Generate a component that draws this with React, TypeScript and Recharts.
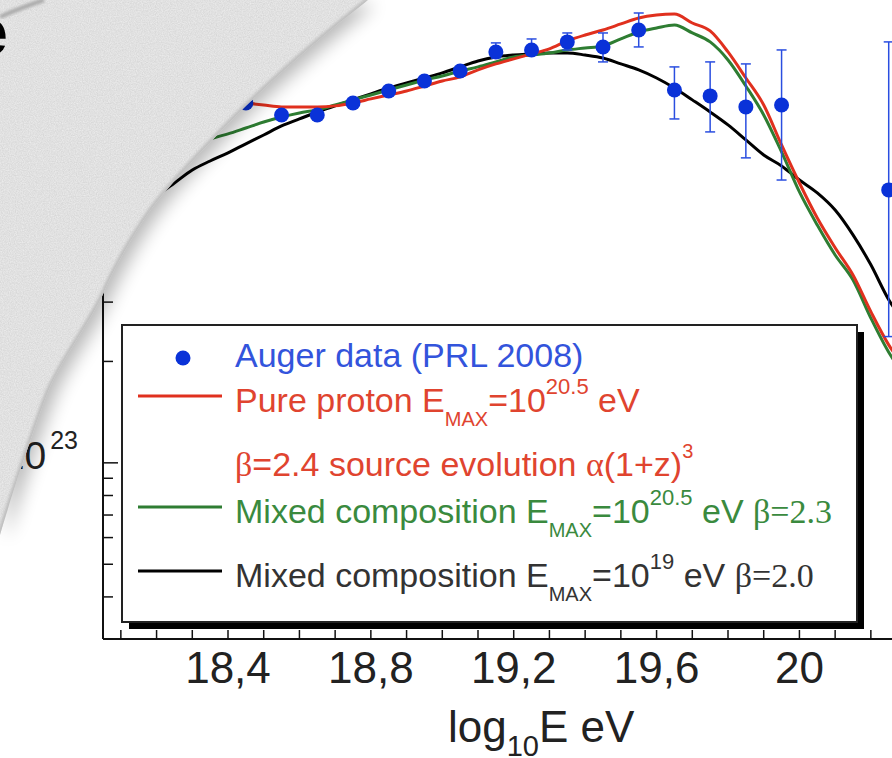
import React from "react";
import { ComposedChart, Line, Scatter, XAxis, YAxis, ErrorBar } from "recharts";

// log10(E/eV) grid used by the model curves
const logE = [
  18.1, 18.15, 18.2, 18.25, 18.3, 18.35, 18.4, 18.45, 18.5, 18.55, 18.6, 18.65, 18.7, 18.75, 18.8, 18.85, 18.9, 18.95,
  19.0, 19.05, 19.1, 19.15, 19.2, 19.25, 19.3, 19.35, 19.4, 19.45, 19.5, 19.55, 19.6, 19.65, 19.7, 19.75, 19.8, 19.85,
  19.9, 19.95, 20.0, 20.05, 20.1, 20.15, 20.2, 20.25, 20.3,
];

// E^3 J for each model (null = not drawn)
const pureProton = [
  null, null, null, null, null, null, null, 11.7e23, 11.54e23, 11.39e23, 11.39e23, 11.39e23, 11.47e23, 11.7e23, 12.03e23,
  12.36e23, 12.7e23, 13.14e23,
  13.6e23, 13.98e23, 14.67e23, 15.28e23, 15.81e23, 16.36e23, 16.93e23, 17.88e23, 18.62e23, 19.27e23, 20.08e23, 20.92e23,
  21.35e23, 21.49e23, 20.21e23, 19.14e23, 16.58e23, 13.88e23, 11.54e23, 8.78e23,
  6.77e23, 5.33e23, 4.35e23, 3.61e23, 2.81e23, 2.24e23, 1.89e23,
];
const mixedHigh = [
  null, null, 8.2e23, 8.49e23, 8.85e23, 9.15e23, 9.47e23, 9.86e23, 10.27e23, 10.63e23, 10.93e23, 11.16e23, 11.54e23,
  11.95e23, 12.36e23, 12.79e23, 13.23e23, 13.69e23,
  14.07e23, 14.56e23, 14.97e23, 15.49e23, 16.02e23, 16.24e23, 16.47e23, 16.81e23, 17.04e23, 17.28e23, 18.12e23, 19.01e23,
  19.54e23, 19.94e23, 18.88e23, 17.76e23, 15.7e23, 13.14e23, 10.78e23, 8.37e23,
  6.37e23, 5.08e23, 4.14e23, 3.49e23, 2.69e23, 2.13e23, 1.79e23,
];
const mixedLow = [
  5.19e23, 5.71e23, 6.2e23, 6.77e23, 7.4e23, 7.87e23, 8.32e23, 8.85e23, 9.4e23, 10.0e23, 10.49e23, 11.0e23, 11.47e23,
  11.95e23, 12.45e23, 12.96e23, 13.41e23, 13.88e23,
  14.37e23, 14.97e23, 15.59e23, 16.02e23, 16.24e23, 16.36e23, 16.47e23, 16.47e23, 16.24e23, 15.91e23, 15.28e23, 14.67e23,
  13.88e23, 12.96e23, 11.95e23, 11.0e23, 10.07e23, 9.09e23, 8.2e23, 7.61e23,
  6.91e23, 6.33e23, 5.63e23, 4.75e23, 3.87e23, 3.05e23, 2.57e23,
];

// Auger data (PRL 2008)
const augerLogE = [18.45, 18.55, 18.65, 18.75, 18.85, 18.95, 19.05, 19.15, 19.25, 19.35, 19.45, 19.55, 19.65, 19.75, 19.85, 19.95, 20.25];
const augerFlux = [11.7e23, 10.78e23, 10.78e23, 11.7e23, 12.7e23, 13.6e23, 14.56e23, 16.58e23, 16.81e23, 17.76e23, 17.16e23, 19.27e23, 12.79e23, 12.28e23, 11.39e23, 11.54e23, 6.46e23];
const augerUpper = [11.95e23, 11.0e23, 11.0e23, 11.95e23, 12.96e23, 13.88e23, 14.97e23, 17.64e23, 18.12e23, 18.88e23, 18.88e23, 21.64e23, 14.97e23, 15.49e23, 15.28e23, 16.81e23, 17.76e23];
const augerLower = [11.47e23, 10.56e23, 10.56e23, 11.47e23, 12.45e23, 13.32e23, 14.17e23, 15.91e23, 16.24e23, 16.81e23, 15.49e23, 17.16e23, 10.49e23, 9.6e23, 8.04e23, 6.91e23, 2.37e23];

// axis ticks
const xTicks = [18.1, 18.2, 18.3, 18.4, 18.5, 18.6, 18.7, 18.8, 18.9, 19.0, 19.1, 19.2, 19.3, 19.4, 19.5, 19.6, 19.7, 19.8, 19.9, 20.0, 20.1, 20.2, 20.3, 20.4, 20.5];
const xLabelTicks = [18.4, 18.8, 19.2, 19.6, 20.0];
const xLabelText = ["18,4", "18,8", "19,2", "19,6", "20"];
const yTicks = [3e22, 4e22, 5e22, 6e22, 7e22, 8e22, 9e22, 1e23, 2e23, 3e23, 4e23, 5e23, 6e23, 7e23, 8e23, 9e23, 1e24, 2e24];

const curves = logE.map((e, i) => ({ logE: e, red: pureProton[i], green: mixedHigh[i], black: mixedLow[i] }));
const auger = augerLogE.map((e, i) => ({
  logE: e,
  flux: augerFlux[i],
  err: [augerFlux[i] - augerLower[i], augerUpper[i] - augerFlux[i]],
}));

const SANS = '"Liberation Sans", Arial, Helvetica, sans-serif';
const SERIF = '"Liberation Serif", "Times New Roman", serif';

function XTick({ x, y, payload }: any) {
  const i = xLabelTicks.findIndex((t) => Math.abs(t - payload.value) < 1e-6);
  return (
    <g>
      <line x1={x} x2={x} y1={y} y2={y - 9} stroke="#111" strokeWidth={1.5} />
      {i >= 0 && (
        <text x={x} y={y + 44} textAnchor="middle" fontFamily={SANS} fontSize={44} fill="#222">
          {xLabelText[i]}
        </text>
      )}
    </g>
  );
}

function YTick({ x, y, payload }: any) {
  const v = payload.value;
  const major = v === 1e23 || v === 1e24;
  return (
    <g>
      <line x1={x} x2={x + (major ? 15 : 10)} y1={y} y2={y} stroke="#111" strokeWidth={1.5} />
      {v === 1e23 && (
        <text x={x - 25} y={y + 6} textAnchor="end" fontFamily={SANS} fontSize={39} fill="#222">
          10
          <tspan fontSize={25} dx={4} dy={-20}>
            23
          </tspan>
        </text>
      )}
    </g>
  );
}

const curlEdge = "M368,0 C330,30 285,68 250,102 C220,131 179,175 160,198 C141,221 116,264 104,292 C92,320 60,362 48,392 C36,422 10,500 0,535";

function Overlay() {
  return (
    <svg width={892} height={758} style={{ position: "absolute", left: 0, top: 0, pointerEvents: "none" }}>
      <defs>
        <filter id="soft" x="-20%" y="-20%" width="140%" height="140%">
          <feGaussianBlur stdDeviation="9" />
        </filter>
        <filter id="edgeBlur">
          <feGaussianBlur stdDeviation="1.5" />
        </filter>
        <filter id="grain">
          <feTurbulence type="fractalNoise" baseFrequency="0.85" numOctaves="2" seed="3" />
          <feColorMatrix type="matrix" values="0 0 0 0 0  0 0 0 0 0  0 0 0 0 0  0 0 0 0.12 0" />
        </filter>
        <clipPath id="curlClip">
          <path d={curlEdge + " L0,0 Z"} />
        </clipPath>
      </defs>

      {/* legend */}
      <rect x={129} y={332} width={735} height={297} fill="#000" />
      <rect x={122} y={325} width={735} height={297} fill="#fff" stroke="#222" strokeWidth={2} />
      <circle cx={183} cy={358} r={7.5} fill="#0a32d8" />
      <line x1={138} x2={222} y1={396} y2={396} stroke="#e0301e" strokeWidth={3} />
      <line x1={138} x2={222} y1={507} y2={507} stroke="#2e7d32" strokeWidth={3} />
      <line x1={138} x2={222} y1={571} y2={571} stroke="#000" strokeWidth={3} />
      <g fontFamily={SANS} fontSize={34}>
        <text x={235} y={367} fill="#3354dc">
          Auger data (PRL 2008)
        </text>
        <text x={235} y={412} fill="#e0442f">
          Pure proton E<tspan fontSize={20} dy={14}>MAX</tspan>
          <tspan dy={-14}>=10</tspan>
          <tspan fontSize={22} dy={-18}>20.5</tspan>
          <tspan dy={18}> eV</tspan>
        </text>
        <text x={235} y={476} fill="#e0442f">
          <tspan fontFamily={SERIF}>β</tspan>=2.4 source evolution <tspan fontFamily={SERIF}>α</tspan>(1+z)
          <tspan fontSize={20} dy={-18}>3</tspan>
        </text>
        <text x={235} y={523} fill="#3a8a3e">
          Mixed composition E<tspan fontSize={20} dy={14}>MAX</tspan>
          <tspan dy={-14}>=10</tspan>
          <tspan fontSize={22} dy={-18}>20.5</tspan>
          <tspan dy={18}> eV </tspan>
          <tspan fontFamily={SERIF}>β=2.3</tspan>
        </text>
        <text x={235} y={587} fill="#333">
          Mixed composition E<tspan fontSize={20} dy={14}>MAX</tspan>
          <tspan dy={-14}>=10</tspan>
          <tspan fontSize={22} dy={-18}>19</tspan>
          <tspan dy={18}> eV </tspan>
          <tspan fontFamily={SERIF}>β=2.0</tspan>
        </text>
      </g>

      {/* x axis title */}
      <text x={448} y={742} fontFamily={SANS} fontSize={44} fill="#222">
        log<tspan fontSize={29} dy={14}>10</tspan>
        <tspan dy={-14}>E eV</tspan>
      </text>

      {/* page curl */}
      <path d={curlEdge + " L0,0 Z"} fill="#000" opacity={0.28} filter="url(#soft)" transform="translate(7,5)" />
      <path d={curlEdge + " L0,0 Z"} fill="#efefef" />
      <g clipPath="url(#curlClip)">
        <rect x={0} y={0} width={400} height={560} filter="url(#grain)" />
        <path d={curlEdge} fill="none" stroke="#bdbdbd" strokeWidth={5} filter="url(#edgeBlur)" />
        <path d="M0,17 Q20,8 44,0" fill="none" stroke="#a8a8a8" strokeWidth={4} filter="url(#edgeBlur)" />
        <text x={8} y={55} textAnchor="end" fontFamily={SANS} fontSize={66} fontWeight="bold" fill="#000">
          e
        </text>
      </g>
    </svg>
  );
}

export default function App() {
  return (
    <div
      style={{
        position: "fixed",
        left: 0,
        top: 0,
        width: 892,
        height: 758,
        overflow: "hidden",
        background: "#fff",
      }}
    >
      <ComposedChart width={1000} height={758} data={curves} margin={{ top: 0, right: 22, bottom: 0, left: 0 }}>
        <XAxis
          dataKey="logE"
          type="number"
          domain={[18.05, 20.5]}
          allowDataOverflow
          ticks={xTicks}
          interval={0}
          tick={<XTick />}
          tickLine={false}
          tickSize={0}
          tickMargin={0}
          height={119}
          axisLine={{ stroke: "#111", strokeWidth: 2 }}
        />
        <YAxis
          type="number"
          scale="log"
          domain={[3.0e22, 2.365e24]}
          allowDataOverflow
          ticks={yTicks}
          interval={0}
          tick={<YTick />}
          tickLine={false}
          tickSize={0}
          tickMargin={0}
          width={103}
          axisLine={{ stroke: "#111", strokeWidth: 2 }}
        />
        <Line dataKey="black" type="monotone" stroke="#000" strokeWidth={3} dot={false} isAnimationActive={false} />
        <Line dataKey="green" type="monotone" stroke="#2e7d32" strokeWidth={3} dot={false} isAnimationActive={false} />
        <Line dataKey="red" type="monotone" stroke="#e0301e" strokeWidth={3} dot={false} isAnimationActive={false} />
        <Scatter
          data={auger}
          dataKey="flux"
          isAnimationActive={false}
          shape={(p: any) => <circle cx={p.cx} cy={p.cy} r={7.5} fill="#0a32d8" />}
        >
          <ErrorBar dataKey="err" direction="y" width={5} stroke="#2a4ee0" strokeWidth={1.5} isAnimationActive={false} />
        </Scatter>
      </ComposedChart>
      <Overlay />
    </div>
  );
}
